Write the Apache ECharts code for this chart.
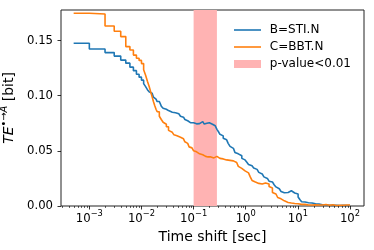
<!DOCTYPE html>
<html><head><meta charset="utf-8">
<script src="https://cdn.jsdelivr.net/npm/echarts@6/dist/echarts.min.js"></script>
<style>html,body{margin:0;padding:0;background:#fff}#c{width:374px;height:250px}</style>
</head><body><div id="c"></div>
<script>
// Time shift (seconds)
const timeShift = [0.0005,0.001,0.002,0.003,0.004,0.005,0.006,0.007,0.008,0.009,
0.010,0.011,0.012,0.013,0.014,0.015,0.016,0.017,0.018,0.019,
0.020,0.022,0.024,0.026,0.028,0.030,0.033,0.036,0.039,0.042,
0.045,0.048,0.052,0.056,0.060,0.064,0.068,0.072,0.077,0.082,
0.087,0.093,0.100,0.107,0.114,0.122,0.130,0.140,0.150,0.160,
0.170,0.180,0.190,0.200,0.215,0.230,0.245,0.260,0.280,0.300,
0.320,0.340,0.370,0.400,0.430,0.460,0.500,0.540,0.580,0.620,
0.670,0.720,0.780,0.840,0.900,0.970,1.05,1.13,1.22,1.32,
1.42,1.53,1.65,1.78,1.92,2.07,2.23,2.40,2.60,2.80,
3.00,3.25,3.50,3.80,4.10,4.40,4.75,5.10,5.50,6.00,
6.50,7.00,7.50,8.10,8.70,9.40,10.1,10.9,11.8,12.7,
13.7,14.8,16.0,17.3,18.7,20.2,21.8,23.5,25.4,27.4,
29.6,32.0,34.5,37.3,40.3,43.5,47.0,50.8,54.8,59.2,
64.0,69.0,74.5,80.5,87.0,94.0,100];
// B=STI.N
const teB = [0.1475,0.1423,0.1391,0.1359,0.1323,0.1295,0.1259,0.1227,0.1195,0.1168,
0.1141,0.1109,0.1082,0.1055,0.1036,0.1023,0.1005,0.0986,0.0968,0.0959,
0.0947,0.0932,0.0905,0.0886,0.0877,0.0865,0.0855,0.0850,0.0844,0.0845,
0.0841,0.0836,0.0827,0.0814,0.0805,0.0791,0.0784,0.0773,0.0761,0.0756,
0.0750,0.0755,0.0750,0.0745,0.0752,0.0747,0.0759,0.0765,0.0755,0.0743,
0.0750,0.0759,0.0755,0.0745,0.0741,0.0732,0.0727,0.0718,0.0695,0.0673,
0.0650,0.0636,0.0614,0.0600,0.0586,0.0568,0.0541,0.0523,0.0505,0.0486,
0.0473,0.0468,0.0455,0.0432,0.0418,0.0405,0.0397,0.0377,0.0364,0.0355,
0.0345,0.0332,0.0318,0.0305,0.0291,0.0277,0.0264,0.0250,0.0236,0.0225,
0.0218,0.0205,0.0193,0.0173,0.0156,0.0145,0.0132,0.0120,0.0118,0.0123,
0.0132,0.0138,0.0123,0.0118,0.0129,0.0109,0.0082,0.0059,0.0039,0.0036,
0.0032,0.0030,0.0025,0.0027,0.0023,0.0020,0.0015,0.0018,0.0014,0.0011,
0.0014,0.0009,0.0011,0.0007,0.0009,0.0006,0.0009,0.0006,0.0008,0.0005,
0.0007,0.0006,0.0008,0.0005,0.0007,0.0005,0.0006];
// C=BBT.N
const teC = [0.1748,0.1741,0.1632,0.1584,0.1536,0.1445,0.1414,0.1368,0.1339,0.1320,
0.1291,0.1236,0.1186,0.1132,0.1086,0.1036,0.0991,0.0945,0.0909,0.0877,
0.0855,0.0814,0.0784,0.0759,0.0741,0.0718,0.0686,0.0668,0.0655,0.0645,
0.0636,0.0629,0.0623,0.0618,0.0609,0.0595,0.0582,0.0568,0.0550,0.0536,
0.0527,0.0514,0.0500,0.0491,0.0482,0.0473,0.0468,0.0464,0.0456,0.0450,
0.0455,0.0445,0.0441,0.0445,0.0434,0.0436,0.0441,0.0450,0.0459,0.0432,
0.0418,0.0427,0.0414,0.0418,0.0425,0.0414,0.0423,0.0409,0.0400,0.0395,
0.0377,0.0359,0.0341,0.0323,0.0318,0.0309,0.0300,0.0282,0.0264,0.0232,
0.0218,0.0209,0.0205,0.0195,0.0200,0.0205,0.0209,0.0214,0.0200,0.0177,
0.0164,0.0123,0.0109,0.0095,0.0077,0.0065,0.0055,0.0047,0.0041,0.0032,
0.0029,0.0027,0.0025,0.0023,0.0020,0.0021,0.0018,0.0015,0.0014,0.0015,
0.0011,0.0009,0.0012,0.0009,0.0007,0.0010,0.0007,0.0009,0.0006,0.0009,
0.0006,0.0013,0.0009,0.0006,0.0009,0.0011,0.0007,0.0005,0.0009,0.0006,
0.0011,0.0007,0.0006,0.0009,0.0006,0.0009,0.0006];
const significantRange = [0.1, 0.28];
const seriesNames = ['B=STI.N', 'C=BBT.N', 'p-value<0.01'];
const xTickExponents = [-3, -2, -1, 0, 1, 2];
const yTickLabels = ['0.00', '0.05', '0.10', '0.15'];
const xRange = [2.86e-4, 185.5];
const yRange = [0, 0.1777];

const minorTicks = [];
for (let n = -4; n <= 2; n++) for (let k = 2; k <= 9; k++) {
  const v = k * Math.pow(10, n);
  if (v > xRange[0] && v < xRange[1]) minorTicks.push([v, 0]);
}

const FONT = 'DejaVu Sans';
const LINE_ICON = 'path://M0,0L27,0L27,1.6L0,1.6Z';
const chart = echarts.init(document.getElementById('c'), null, {renderer: 'canvas'});
chart.setOption({
  animation: false,
  backgroundColor: '#fff',
  textStyle: {fontFamily: FONT, color: '#000'},
  grid: {left: 61, right: 10, top: 10, bottom: 44, containLabel: false, outerBoundsMode: 'none',
    show: true, borderColor: '#222', borderWidth: 1, backgroundColor: 'transparent'},
  legend: {
    orient: 'vertical', left: 229, top: 19, itemWidth: 27, itemHeight: 8, itemGap: 5,
    textStyle: {fontFamily: FONT, fontSize: 12, color: '#000'},
    formatter: function (name) { return ' ' + name; },
    data: [
      {name: seriesNames[0], icon: LINE_ICON},
      {name: seriesNames[1], icon: LINE_ICON},
      {name: seriesNames[2], icon: 'rect'}
    ]
  },
  xAxis: {
    type: 'log', logBase: 10, min: xRange[0], max: xRange[1],
    name: 'Time shift [sec]', nameLocation: 'middle', nameGap: 21,
    nameTextStyle: {fontFamily: FONT, fontSize: 14, color: '#000'},
    axisLine: {show: false},
    axisTick: {show: true, length: 3.5, lineStyle: {color: '#000', width: 0.8}},
    splitLine: {show: false},
    axisLabel: {
      margin: 4, showMinLabel: false, showMaxLabel: false, fontFamily: FONT,
      formatter: function (v) {
        const e = Math.round(Math.log10(v));
        if (xTickExponents.indexOf(e) < 0) return '';
        return '{b|10}{s|' + (e < 0 ? '\u2212' : '') + Math.abs(e) + '}';
      },
      rich: {
        b: {fontFamily: FONT, fontSize: 11.7, lineHeight: 18, color: '#000'},
        s: {fontFamily: FONT, fontSize: 8.3, lineHeight: 9, verticalAlign: 'top', color: '#000'}
      }
    }
  },
  yAxis: {
    type: 'value', min: yRange[0], max: yRange[1], interval: 0.05,
    name: '{i|TE}{s|\u2022\u2192A}{n| [bit]}', nameLocation: 'middle', nameRotate: 90, nameGap: 37,
    nameTextStyle: {
      fontFamily: FONT, color: '#000',
      rich: {
        i: {fontFamily: FONT, fontSize: 14, fontStyle: 'italic', lineHeight: 20, color: '#000'},
        s: {fontFamily: FONT, fontSize: 9.8, fontStyle: 'italic', lineHeight: 11, verticalAlign: 'top', color: '#000'},
        n: {fontFamily: FONT, fontSize: 14, lineHeight: 20, color: '#000'}
      }
    },
    axisLine: {show: false},
    axisTick: {show: true, length: 3.5, lineStyle: {color: '#000', width: 0.8}},
    splitLine: {show: false},
    axisLabel: {
      margin: 8, fontFamily: FONT, fontSize: 11.7, color: '#000', showMaxLabel: false,
      formatter: function (v) {
        const i = Math.round(v / 0.05);
        return yTickLabels[i] !== undefined && Math.abs(v - i * 0.05) < 1e-9 ? yTickLabels[i] : '';
      }
    }
  },
  series: [
    {
      name: seriesNames[2], type: 'line', data: [], symbol: 'none', z: 1,
      itemStyle: {color: '#ffb3b3'}, lineStyle: {color: '#ffb3b3'},
      markArea: {silent: true, itemStyle: {color: '#ffb3b3', opacity: 1},
        data: [[{xAxis: significantRange[0]}, {xAxis: significantRange[1]}]]}
    },
    {
      name: seriesNames[0], type: 'line', step: 'end', symbol: 'none', z: 3,
      data: timeShift.map((t, i) => [t, teB[i]]),
      itemStyle: {color: '#1f77b4'}, lineStyle: {color: '#1f77b4', width: 1.6}
    },
    {
      name: seriesNames[1], type: 'line', step: 'end', symbol: 'none', z: 4,
      data: timeShift.map((t, i) => [t, teC[i]]),
      itemStyle: {color: '#ff7f0e'}, lineStyle: {color: '#ff7f0e', width: 1.6}
    },
    {
      type: 'custom', silent: true, z: 5, clip: false,
      data: minorTicks,
      renderItem: function (params, api) {
        const p = api.coord([api.value(0), api.value(1)]);
        const x = Math.round(p[0]) + 0.5;
        return {type: 'line', shape: {x1: x, y1: p[1], x2: x, y2: p[1] + 2}, style: {stroke: '#000', lineWidth: 0.6}};
      }
    }
  ]
});
</script></body></html>
